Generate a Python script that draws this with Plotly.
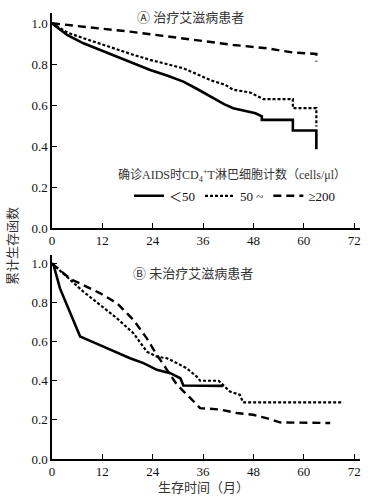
import plotly.graph_objects as go

# ---------------- data ----------------
# Panel A: treated patients
a_lt50_t = [0, 3.6, 7.5, 11.4, 15.5, 19.5, 23.4, 27.4, 31.3, 34.5, 36.9, 39.2, 41.0, 43.2, 47.2, 48.5, 50.0, 50.0, 57.4, 57.4, 63.0, 63.0]
a_lt50_s = [1.0, 0.943, 0.902, 0.87, 0.837, 0.805, 0.772, 0.745, 0.715, 0.68, 0.652, 0.626, 0.605, 0.585, 0.564, 0.56, 0.545, 0.528, 0.528, 0.476, 0.476, 0.385]

a_50_t = [0, 3.6, 7.5, 11.4, 15.5, 19.5, 23.4, 27.4, 31.3, 35.3, 38.0, 41.2, 43.2, 47.2, 49.0, 50.4, 57.4, 57.4, 63.0, 63.0]
a_50_s = [1.0, 0.955, 0.927, 0.9, 0.87, 0.845, 0.821, 0.8, 0.78, 0.745, 0.72, 0.70, 0.675, 0.662, 0.645, 0.629, 0.629, 0.585, 0.585, 0.496]

a_200_t = [0, 2.0, 7.5, 18.6, 27.0, 35.3, 43.2, 51.1, 57.4, 63.0, 63.0]
a_200_s = [1.0, 0.995, 0.983, 0.959, 0.935, 0.915, 0.894, 0.878, 0.857, 0.85, 0.813]

# Panel B: untreated patients
b_lt50_t = [0, 0.4, 1.9, 3.6, 5.2, 6.7, 9.1, 12.3, 15.5, 18.6, 21.8, 25.0, 28.2, 30.6, 31.3, 40.8]
b_lt50_s = [1.0, 0.99, 0.872, 0.787, 0.702, 0.626, 0.604, 0.574, 0.54, 0.515, 0.49, 0.456, 0.439, 0.413, 0.376, 0.374]

b_50_t = [0, 4.4, 7.5, 11.5, 15.5, 19.4, 22.6, 25.0, 27.4, 29.8, 32.1, 34.5, 35.3, 39.7, 41.2, 42.4, 44.8, 45.5, 69.4]
b_50_s = [1.0, 0.915, 0.855, 0.787, 0.719, 0.643, 0.549, 0.523, 0.515, 0.49, 0.464, 0.421, 0.40, 0.40, 0.371, 0.345, 0.328, 0.29, 0.29]

b_200_t = [0, 4.4, 7.5, 11.5, 15.5, 19.4, 22.6, 25.0, 27.4, 29.8, 33.0, 34.5, 35.3, 40.0, 44.0, 47.9, 51.1, 54.3, 66.3]
b_200_s = [1.0, 0.92, 0.889, 0.847, 0.796, 0.711, 0.617, 0.532, 0.456, 0.379, 0.311, 0.275, 0.26, 0.253, 0.235, 0.226, 0.209, 0.187, 0.184]

group_names = ["＜50", "50 ~", "≥200"]
x_ticks = [0, 12, 24, 36, 48, 60, 72]
y_ticks = [0.0, 0.2, 0.4, 0.6, 0.8, 1.0]
y_ticklabels = ["0.0", "0.2", "0.4", "0.6", "0.8", "1.0"]

FONT = "Liberation Serif, Noto Sans CJK SC, serif"

styles = [
    dict(color="black", width=2.6, dash="solid"),
    dict(color="black", width=2.2, dash="3px,2px"),
    dict(color="black", width=2.4, dash="8px,5px"),
]

fig = go.Figure()

panel_a = [(a_lt50_t, a_lt50_s), (a_50_t, a_50_s), (a_200_t, a_200_s)]
panel_b = [(b_lt50_t, b_lt50_s), (b_50_t, b_50_s), (b_200_t, b_200_s)]

for i, (t, s) in enumerate(panel_a):
    fig.add_trace(go.Scatter(x=t, y=s, mode="lines", line=styles[i], name=group_names[i],
                             legendgroup=str(i), showlegend=True, xaxis="x", yaxis="y"))
for i, (t, s) in enumerate(panel_b):
    fig.add_trace(go.Scatter(x=t, y=s, mode="lines", line=styles[i], name=group_names[i],
                             legendgroup=str(i), showlegend=False, xaxis="x2", yaxis="y2"))

axis_common = dict(showline=True, linecolor="black", linewidth=1.5, ticks="inside", ticklen=5,
                   tickcolor="black", tickwidth=1.2, showgrid=False, zeroline=False, mirror=False,
                   tickfont=dict(family=FONT, size=13, color="#111"))

fig.update_layout(
    width=383, height=501,
    margin=dict(l=52, r=23, t=13, b=42),
    paper_bgcolor="white", plot_bgcolor="white",
    font=dict(family=FONT, color="#111"),
    xaxis=dict(domain=[0, 1], range=[0, 73.4], tickvals=x_ticks, anchor="y", **axis_common),
    yaxis=dict(domain=[0.518, 1], range=[0, 1.05], tickvals=y_ticks, ticktext=y_ticklabels, anchor="x", **axis_common),
    xaxis2=dict(domain=[0, 1], range=[0, 73.4], tickvals=x_ticks, anchor="y2", **axis_common),
    yaxis2=dict(domain=[0, 0.457], range=[0, 1.042], tickvals=y_ticks, ticktext=y_ticklabels, anchor="x2", **axis_common),
    showlegend=True,
    legend=dict(orientation="h", x=0.25, y=0.59, xanchor="left", yanchor="middle",
                font=dict(family=FONT, size=13, color="#111"), itemwidth=30,
                bgcolor="rgba(0,0,0,0)", tracegroupgap=0),
)

annots = [
    dict(text="Ⓐ 治疗艾滋病患者", x=(190 - 52) / 308, y=(459 - 17) / 446, size=13),
    dict(text="确诊AIDS时CD<sub>4</sub><sup>+</sup>T淋巴细胞计数（cells/μl）", x=(232 - 52) / 308, y=(459 - 176) / 446, size=12),
    dict(text="Ⓑ 未治疗艾滋病患者", x=(193 - 52) / 308, y=(459 - 273) / 446, size=13),
    dict(text="生存时间（月）", x=(203 - 52) / 308, y=(459 - 487) / 446, size=13),
]
for a in annots:
    fig.add_annotation(text=a["text"], x=a["x"], y=a["y"], xref="paper", yref="paper",
                       showarrow=False, xanchor="center", yanchor="middle",
                       font=dict(family=FONT, size=a["size"], color="#333"))

fig.add_annotation(text="累计生存函数", x=(12 - 52) / 308, y=(459 - 246) / 446, xref="paper", yref="paper",
                   showarrow=False, textangle=-90, xanchor="center", yanchor="middle",
                   font=dict(family=FONT, size=13, color="#333"))

fig.write_html("out.html", config={"displayModeBar": False},
               post_script="document.body.style.margin='0';document.body.style.padding='0';")
